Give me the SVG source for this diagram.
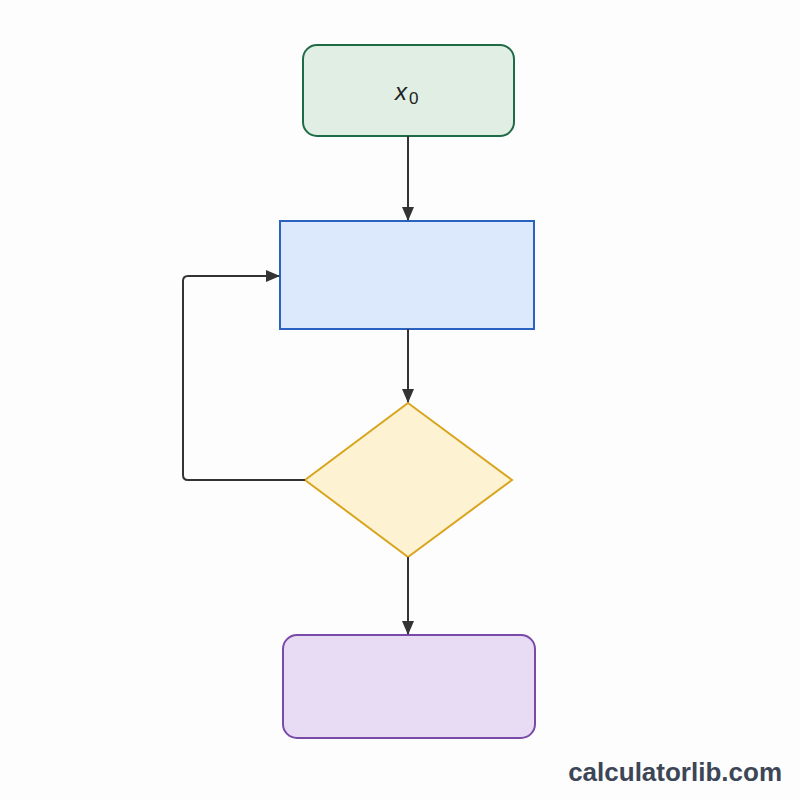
<svg xmlns="http://www.w3.org/2000/svg" width="800" height="800" viewBox="0 0 800 800">
<defs>
<style>
.c{stroke:#333;stroke-width:2;fill:none}
.t{font-family:"Liberation Sans",Arial,sans-serif;fill:#222}
</style>
<marker id="a" markerWidth="14" markerHeight="14" refX="13" refY="6" orient="auto" markerUnits="userSpaceOnUse"><path d="M0,0 L14,6 L0,12 z" fill="#333"/></marker>
</defs>
<rect width="800" height="800" fill="#fdfdfd"/>
<g id="start"><rect x="303" y="45" width="211" height="91" rx="14" fill="#e0eee3" stroke="#1f6b45" stroke-width="2"/>
<text class="t" x="395" y="100" font-size="24" font-style="italic">x</text><text class="t" x="409" y="104" font-size="17">0</text></g>
<g id="process"><rect x="280" y="221" width="254" height="108" fill="#dce8fb" stroke="#2a62c0" stroke-width="2"/></g>
<g id="decision"><polygon points="408,403 512,480 408,557 305,480" fill="#fdf2d2" stroke="#d9a520" stroke-width="2"/></g>
<g id="end"><rect x="283" y="635" width="252" height="103" rx="14" fill="#e8dcf5" stroke="#7a4aa8" stroke-width="2"/></g>
<g id="connectors">
<line class="c" x1="408" y1="136" x2="408" y2="220" marker-end="url(#a)"/>
<line class="c" x1="408" y1="329" x2="408" y2="402" marker-end="url(#a)"/>
<line class="c" x1="408" y1="557" x2="408" y2="634" marker-end="url(#a)"/>
<path class="c" d="M305,480 H188 Q183,480 183,475 V281 Q183,276 188,276 H279" marker-end="url(#a)"/>
</g>
<text x="782" y="781" text-anchor="end" font-family="Liberation Sans,Arial,sans-serif" font-weight="bold" font-size="26" fill="#3c4656">calculatorlib.com</text>
</svg>
